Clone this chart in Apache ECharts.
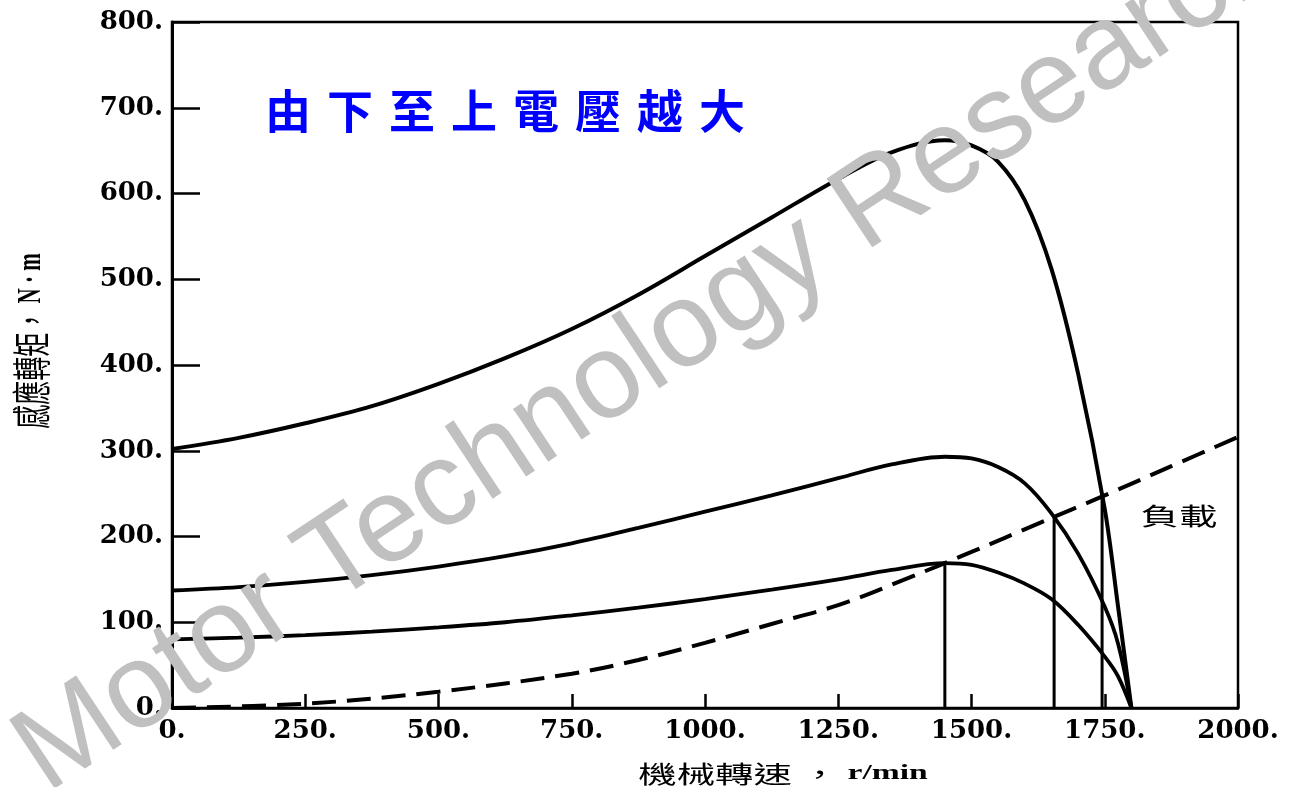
<!DOCTYPE html>
<html>
<head>
<meta charset="utf-8">
<script src="https://cdn.jsdelivr.net/npm/echarts@6/dist/echarts.min.js"></script>
<style>
  html, body { margin: 0; padding: 0; background: #fff; }
  #chart { width: 1292px; height: 787px; }
</style>
</head>
<body>
<div id="chart"></div>
<script>
// Induction motor torque–speed curves at three supply voltages, with a fan-type load
const speeds = [0, 125, 250, 375, 500, 625, 750, 875, 1000, 1125, 1250, 1350, 1450, 1500, 1550, 1600, 1650, 1700, 1750, 1775, 1800];
const torqueHighV = [302, 315, 332, 352, 378, 408, 442, 482, 527, 572, 617, 648, 662, 656, 637, 592, 512, 390, 232, 118, 0];
const torqueMidV  = [137, 141, 147, 155, 165, 177, 192, 210, 229, 248, 268, 284, 293, 291, 281, 262, 227, 180, 118, 75, 0];
const torqueLowV  = [80, 82, 85, 89, 94, 100, 108, 117, 127, 138, 150, 161, 169, 167, 158, 145, 127, 97, 60, 37, 0];

const loadSpeeds = [0, 250, 500, 750, 875, 1000, 1125, 1250, 1375, 1500, 1625, 1750, 1875, 2000];
const loadTorque = [0, 5, 19, 40, 56, 76, 98, 120, 150, 182, 215, 248, 282, 316];

// operating points where each motor curve meets the load line
const opSpeeds = [1450, 1655, 1745];
const opTorque = [169, 223, 247];

const xTicks = [0, 250, 500, 750, 1000, 1250, 1500, 1750, 2000];
const yTicks = [0, 100, 200, 300, 400, 500, 600, 700, 800];

const pairs = (xs, ys) => xs.map((x, i) => [x, ys[i]]);

const tickFont = { fontFamily: 'DejaVu Serif', fontWeight: 'bold', fontSize: 26, color: '#000' };

const curve = (name, ys, w) => ({
  name, type: 'line', data: pairs(speeds, ys), showSymbol: false, smooth: 0.35,
  lineStyle: { color: '#000', width: w }, z: 3
});

const series = [
  curve('high', torqueHighV, 4),
  curve('mid', torqueMidV, 3.8),
  curve('low', torqueLowV, 3.8),
  {
    name: 'load', type: 'line', data: pairs(loadSpeeds, loadTorque), showSymbol: false, smooth: 0.35,
    lineStyle: { color: '#000', width: 4, type: [24, 11] }, z: 3
  }
];
opSpeeds.forEach((s, i) => {
  series.push({
    type: 'line', data: [[s, 0], [s, opTorque[i]]], showSymbol: false,
    lineStyle: { color: '#000', width: 3 }, z: 2
  });
});

const chart = echarts.init(document.getElementById('chart'), null, { renderer: 'canvas' });
chart.setOption({
  backgroundColor: '#fff',
  animation: false,
  grid: { left: 172, right: 54, top: 22, bottom: 79, show: true, borderColor: '#000', borderWidth: 2.5, backgroundColor: 'transparent' },
  xAxis: {
    type: 'value', min: xTicks[0], max: xTicks[xTicks.length - 1], interval: xTicks[1] - xTicks[0],
    axisLine: { lineStyle: { color: '#000', width: 2.5 } },
    axisTick: { inside: true, length: 14, lineStyle: { color: '#000', width: 2.5 } },
    axisLabel: Object.assign({ margin: 10, formatter: v => v + '.' }, tickFont),
    splitLine: { show: false }
  },
  yAxis: {
    type: 'value', min: yTicks[0], max: yTicks[yTicks.length - 1], interval: yTicks[1] - yTicks[0],
    axisLine: { show: true, lineStyle: { color: '#000', width: 3 } },
    axisTick: { show: true, inside: true, length: 28, lineStyle: { color: '#000', width: 2.5 } },
    axisLabel: Object.assign({ margin: 9, formatter: v => v + '.' }, tickFont),
    splitLine: { show: false }
  },
  series,
  graphic: [
    {
      type: 'text', x: 505, y: 111, z: 10,
      style: {
        text: '由下至上電壓越大'.split('').map(c => '{c|' + c + '}').join(''),
        fill: '#0000ff', align: 'center', verticalAlign: 'middle',
        textAlign: 'center', textVerticalAlign: 'middle',
        rich: { c: { fontFamily: 'Noto Sans CJK TC', fontWeight: 'bold', fontSize: 46, color: '#0000ff', padding: [0, 8] } }
      }
    },
    {
      type: 'text', x: 1179, y: 516, scaleX: 1.6, z: 10,
      style: {
        text: '負載', fill: '#000', font: '24px "Noto Sans CJK TC"',
        align: 'center', verticalAlign: 'middle', textAlign: 'center', textVerticalAlign: 'middle'
      }
    },
    {
      type: 'text', x: 783, y: 774, scaleX: 1.6, z: 10,
      style: {
        text: '{a|機械轉速 ， }{b|r/min}', fill: '#000',
        align: 'center', verticalAlign: 'middle', textAlign: 'center', textVerticalAlign: 'middle',
        rich: {
          a: { fontFamily: 'Noto Sans CJK TC', fontSize: 24, color: '#000' },
          b: { fontFamily: 'Liberation Serif', fontWeight: 'bold', fontSize: 21, color: '#000' }
        }
      }
    },
    {
      type: 'text', x: 31, y: 341, rotation: Math.PI / 2, scaleY: 1.6, z: 10,
      style: {
        text: '{a|感應轉矩，}{b| N · m}', fill: '#000',
        align: 'center', verticalAlign: 'middle', textAlign: 'center', textVerticalAlign: 'middle',
        rich: {
          a: { fontFamily: 'Noto Sans CJK TC', fontSize: 24, color: '#000' },
          b: { fontFamily: 'Liberation Serif', fontWeight: 'bold', fontSize: 21, color: '#000' }
        }
      }
    },
    {
      type: 'text', x: 651, y: 354, rotation: 0.585, z: 20,
      style: {
        text: 'Motor Technology Research', fill: '#c0c0c0', font: '120px "Liberation Sans"',
        align: 'center', verticalAlign: 'middle', textAlign: 'center', textVerticalAlign: 'middle'
      }
    }
  ]
});
</script>
</body>
</html>
